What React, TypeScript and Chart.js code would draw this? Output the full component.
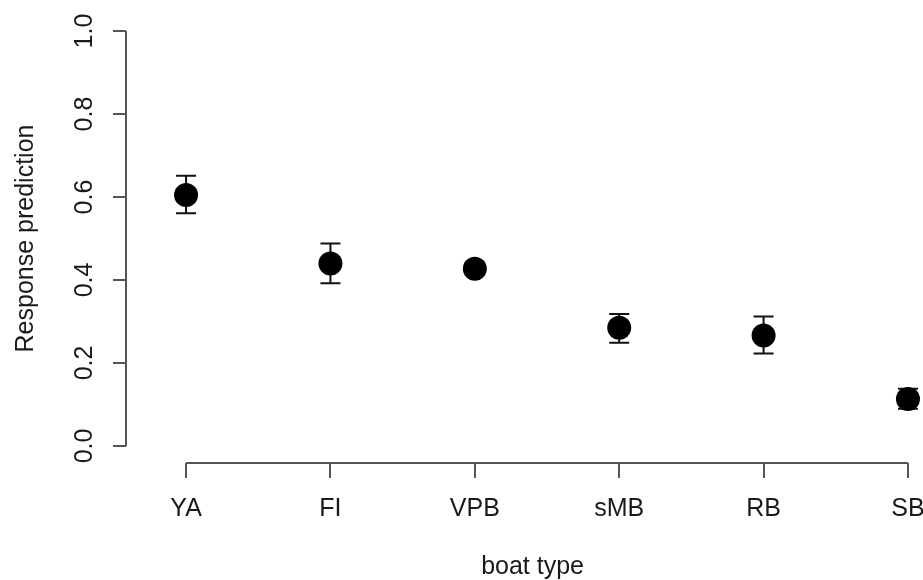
import { useEffect, useRef } from "react";
import { Chart, registerables } from "chart.js";

Chart.register(...registerables);

// ---- data ----
const categories = ["YA", "FI", "VPB", "sMB", "RB", "SB"];
const positions = [1, 2, 3, 4, 5, 6];
const predictions = [0.605, 0.44, 0.427, 0.285, 0.266, 0.113];
const upperCI = [0.651, 0.488, 0.442, 0.318, 0.312, 0.138];
const lowerCI = [0.561, 0.392, 0.413, 0.249, 0.223, 0.09];
const yTicks = [0, 0.2, 0.4, 0.6, 0.8, 1.0];
const xTitle = "boat type";
const yTitle = "Response prediction";

const FONT = "'Liberation Sans', Arial, Helvetica, sans-serif";
const TEXT = "#1a1a1a";
const AXIS = "#555555";
const FS = 25;
// centre of R's plot region along x, in data units
const X_TITLE_CENTER = 3.4;

const rPlotPlugin = {
  id: "rPlot",
  beforeDatasetsDraw(chart: any) {
    const { ctx, chartArea } = chart;
    const xs = chart.scales.x;
    const ys = chart.scales.y;
    ctx.save();
    // axis lines (R style: from first to last tick)
    ctx.strokeStyle = AXIS;
    ctx.lineWidth = 2;
    ctx.beginPath();
    ctx.moveTo(xs.getPixelForValue(positions[0]), chartArea.bottom);
    ctx.lineTo(xs.getPixelForValue(positions[positions.length - 1]), chartArea.bottom);
    ctx.moveTo(chartArea.left, ys.getPixelForValue(yTicks[0]));
    ctx.lineTo(chartArea.left, ys.getPixelForValue(yTicks[yTicks.length - 1]));
    ctx.stroke();
    // error bars
    ctx.strokeStyle = "#111111";
    ctx.lineWidth = 2;
    const cap = 10;
    positions.forEach((p, i) => {
      const x = xs.getPixelForValue(p);
      const yu = ys.getPixelForValue(upperCI[i]);
      const yl = ys.getPixelForValue(lowerCI[i]);
      ctx.beginPath();
      ctx.moveTo(x, yu);
      ctx.lineTo(x, yl);
      ctx.moveTo(x - cap, yu);
      ctx.lineTo(x + cap, yu);
      ctx.moveTo(x - cap, yl);
      ctx.lineTo(x + cap, yl);
      ctx.stroke();
    });
    ctx.restore();
  },
  afterDraw(chart: any) {
    const { ctx } = chart;
    const xs = chart.scales.x;
    ctx.save();
    ctx.fillStyle = TEXT;
    ctx.font = `${FS}px ${FONT}`;
    ctx.textAlign = "center";
    ctx.textBaseline = "alphabetic";
    ctx.fillText(xTitle, xs.getPixelForValue(X_TITLE_CENTER), xs.bottom - 6);
    ctx.restore();
  },
};

export default function App() {
  const ref = useRef<HTMLCanvasElement | null>(null);
  useEffect(() => {
    if (!ref.current) return;
    Chart.defaults.font.family = FONT;
    const chart = new Chart(ref.current, {
      type: "scatter",
      data: {
        datasets: [
          {
            data: positions.map((p, i) => ({ x: p, y: predictions[i] })),
            backgroundColor: "#000000",
            borderColor: "#000000",
            pointRadius: 12,
            pointHoverRadius: 12,
            borderWidth: 0,
            clip: false,
          },
        ],
      },
      options: {
        animation: false,
        responsive: false,
        events: [],
        layout: { padding: { top: 14, left: 0, right: 0, bottom: 0 } },
        plugins: {
          legend: { display: false },
          tooltip: { enabled: false },
        },
        scales: {
          x: {
            type: "linear",
            min: 0.584,
            max: 6.021,
            afterBuildTicks: (s: any) => {
              s.ticks = positions.map((v) => ({ value: v }));
            },
            afterFit: (s: any) => {
              s.height = 117;
              s.paddingLeft = 0;
              s.paddingRight = 0;
            },
            border: { display: false },
            grid: {
              display: true,
              drawOnChartArea: false,
              drawTicks: true,
              tickLength: 15,
              color: AXIS,
              lineWidth: 2,
            },
            ticks: {
              autoSkip: false,
              maxRotation: 0,
              minRotation: 0,
              padding: 16,
              color: TEXT,
              font: { size: FS, family: FONT },
              callback: (v: any) => categories[positions.indexOf(Number(v))] ?? "",
            },
            title: { display: false },
          },
          y: {
            type: "linear",
            min: -0.041,
            max: 1.041,
            afterBuildTicks: (s: any) => {
              s.ticks = yTicks.map((v) => ({ value: v }));
            },
            afterFit: (s: any) => {
              s.width = 126;
              s.paddingTop = 0;
              s.paddingBottom = 0;
            },
            border: { display: false },
            grid: {
              display: true,
              drawOnChartArea: false,
              drawTicks: true,
              tickLength: 13,
              color: AXIS,
              lineWidth: 2,
            },
            ticks: {
              minRotation: 90,
              maxRotation: 90,
              crossAlign: "center",
              padding: 11,
              color: TEXT,
              font: { size: FS, family: FONT },
              callback: (v: any) => Number(v).toFixed(1),
            },
            title: {
              display: true,
              text: yTitle,
              color: TEXT,
              font: { size: FS, family: FONT },
              padding: { top: 11, bottom: 0 },
            },
          },
        },
      },
      plugins: [rPlotPlugin],
    } as any);
    return () => chart.destroy();
  }, []);
  return (
    <div style={{ position: "absolute", left: 0, top: 0, width: 923, height: 580, background: "#ffffff" }}>
      <canvas ref={ref} width={923} height={580} style={{ display: "block", width: 923, height: 580 }} />
    </div>
  );
}
